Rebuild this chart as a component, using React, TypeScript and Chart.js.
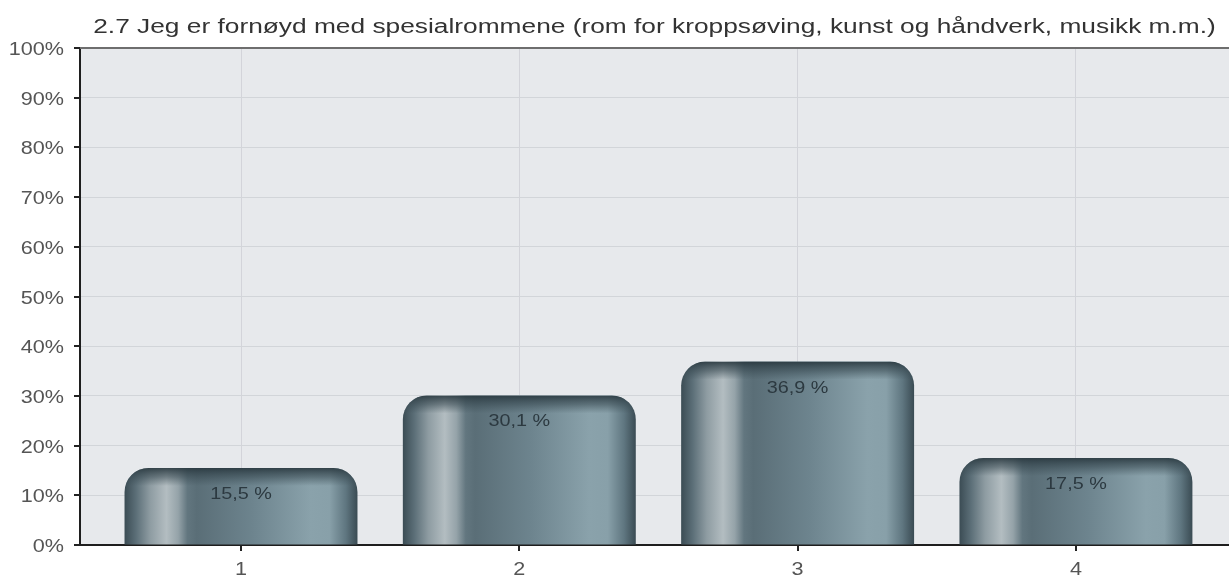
import React, { useEffect, useRef } from "react";
import { Chart, registerables } from "chart.js";

Chart.register(...registerables);

const TITLE = "2.7 Jeg er fornøyd med spesialrommene (rom for kroppsøving, kunst og håndverk, musikk m.m.)";
const categories = ["1", "2", "3", "4"];
const values = [15.5, 30.1, 36.9, 17.5];
const yTickStep = 10;
const yMax = 100;

const FONT = "'Liberation Sans', Arial, sans-serif";
const BAR_PCT = 0.837;
const TEXT_SX = 1.2;

const gradStops: [number, string][] = [
  [0, "#3b4c54"],
  [0.05, "#5c6f78"],
  [0.11, "#8e9ca2"],
  [0.18, "#b3bdc1"],
  [0.23, "#95a3a9"],
  [0.27, "#62767f"],
  [0.31, "#5a6e77"],
  [0.55, "#6d848e"],
  [0.8, "#8aa2ab"],
  [0.88, "#88a0a9"],
  [0.95, "#5f7680"],
  [1, "#3a4b53"],
];

function barGeom(chart: any, i: number) {
  const xs = chart.scales.x;
  const ys = chart.scales.y;
  const cx = xs.getPixelForValue(i + 1);
  const w = (xs.getPixelForValue(2) - xs.getPixelForValue(1)) * BAR_PCT;
  const top = ys.getPixelForValue(values[i]);
  const base = ys.getPixelForValue(0);
  return { cx, w, top, base };
}

function stretchedText(
  ctx: CanvasRenderingContext2D,
  text: string,
  x: number,
  y: number,
  sx: number,
  align: CanvasTextAlign
) {
  ctx.save();
  ctx.translate(x, y);
  ctx.scale(sx, 1);
  ctx.textAlign = align;
  ctx.textBaseline = "alphabetic";
  ctx.fillText(text, 0, 0);
  ctx.restore();
}

const bgPlugin = {
  id: "bgPlugin",
  beforeDraw(chart: any) {
    const { ctx, chartArea: a } = chart;
    ctx.save();
    ctx.fillStyle = "#e7e9ec";
    ctx.fillRect(a.left, a.top, a.right - a.left, a.bottom - a.top);
    ctx.restore();
  },
  beforeDatasetsDraw(chart: any) {
    const { ctx, chartArea: a } = chart;
    ctx.save();
    ctx.strokeStyle = "#6e6e6e";
    ctx.lineWidth = 2;
    ctx.beginPath();
    ctx.moveTo(a.left, a.top);
    ctx.lineTo(a.right, a.top);
    ctx.stroke();
    ctx.restore();
  },
  afterDatasetsDraw(chart: any) {
    const { ctx } = chart;
    values.forEach((v, i) => {
      const { cx, w, top, base } = barGeom(chart, i);
      const r = 24;
      ctx.save();
      ctx.beginPath();
      (ctx as any).roundRect(cx - w / 2, top, w, base - top, [r, r, 0, 0]);
      ctx.clip();
      const g = ctx.createLinearGradient(0, top, 0, top + 18);
      g.addColorStop(0, "rgba(40,55,62,0.9)");
      g.addColorStop(0.5, "rgba(55,72,80,0.55)");
      g.addColorStop(1, "rgba(60,78,86,0)");
      ctx.fillStyle = g;
      ctx.fillRect(cx - w / 2, top, w, 18);
      ctx.restore();

      ctx.save();
      ctx.font = `16.5px ${FONT}`;
      ctx.fillStyle = "#2c3940";
      stretchedText(ctx, v.toFixed(1).replace(".", ",") + " %", cx, top + 31, TEXT_SX, "center");
      ctx.restore();
    });
  },
  afterDraw(chart: any) {
    const { ctx, chartArea: a } = chart;
    const xs = chart.scales.x;
    const ys = chart.scales.y;
    ctx.save();
    ctx.fillStyle = "#555555";
    ctx.font = `18px ${FONT}`;
    ys.ticks.forEach((t: any) => {
      const y = ys.getPixelForValue(t.value);
      stretchedText(ctx, `${t.value}%`, a.left - 16, y + 7, TEXT_SX, "right");
    });
    xs.ticks.forEach((t: any) => {
      const lbl = categories[Number(t.value) - 1];
      if (lbl === undefined) return;
      const x = xs.getPixelForValue(t.value);
      stretchedText(ctx, lbl, x, a.bottom + 30, TEXT_SX, "center");
    });
    // tick marks
    ctx.strokeStyle = "#222";
    ctx.lineWidth = 2;
    ctx.beginPath();
    ys.ticks.forEach((t: any) => {
      const y = Math.round(ys.getPixelForValue(t.value));
      ctx.moveTo(a.left - 6, y);
      ctx.lineTo(a.left, y);
    });
    xs.ticks.forEach((t: any) => {
      const x = Math.round(xs.getPixelForValue(t.value));
      ctx.moveTo(x, a.bottom);
      ctx.lineTo(x, a.bottom + 6);
    });
    ctx.stroke();
    // title, centred over the plot area
    ctx.fillStyle = "#333333";
    ctx.font = `19.5px ${FONT}`;
    const w = ctx.measureText(TITLE).width;
    const targetW = (a.right - a.left) * 0.977;
    stretchedText(ctx, TITLE, (a.left + a.right) / 2, 33, targetW / w, "center");
    ctx.restore();
  },
};

export default function App() {
  const ref = useRef<HTMLCanvasElement | null>(null);

  useEffect(() => {
    document.body.style.margin = "0";
    const canvas = ref.current!;
    const chart = new Chart(canvas, {
      type: "bar",
      data: {
        datasets: [
          {
            data: values.map((v, i) => ({ x: i + 1, y: v })),
            backgroundColor: (c: any) => {
              if (c.type !== "data") return "#62767f";
              const chart = c.chart;
              if (!chart.scales || !chart.scales.x) return "#62767f";
              const { cx, w } = barGeom(chart, c.dataIndex);
              if (!isFinite(cx) || !isFinite(w)) return "#62767f";
              const g = chart.ctx.createLinearGradient(cx - w / 2, 0, cx + w / 2, 0);
              gradStops.forEach(([o, col]) => g.addColorStop(o, col));
              return g;
            },
            borderWidth: 0,
            borderRadius: 24,
            borderSkipped: "start",
            barPercentage: BAR_PCT,
            categoryPercentage: 1,
          } as any,
        ],
      },
      options: {
        animation: false,
        responsive: false,
        maintainAspectRatio: false,
        layout: { padding: { top: 48 } },
        plugins: {
          legend: { display: false },
          tooltip: { enabled: false },
          title: { display: false },
        },
        scales: {
          x: {
            type: "linear",
            min: 0.4215,
            max: 4.55,
            offset: false,
            afterFit: (s: any) => {
              s.height = 36;
            },
            ticks: {
              display: false,
              stepSize: 1,
              includeBounds: false,
              autoSkip: false,
              maxRotation: 0,
            },
            grid: {
              offset: false,
              color: "#d3d4da",
              drawTicks: false,
            },
            border: { color: "#1e1e1e", width: 2 },
          },
          y: {
            min: 0,
            max: yMax,
            afterFit: (s: any) => {
              s.width = 80;
            },
            ticks: {
              display: false,
              stepSize: yTickStep,
            },
            grid: {
              color: "#d2d5d9",
              drawTicks: false,
            },
            border: { color: "#1e1e1e", width: 2 },
          },
        },
      },
      plugins: [bgPlugin],
    });
    return () => chart.destroy();
  }, []);

  return (
    <div style={{ width: 1229, height: 581 }}>
      <canvas ref={ref} width={1229} height={581} style={{ display: "block" }} />
    </div>
  );
}
